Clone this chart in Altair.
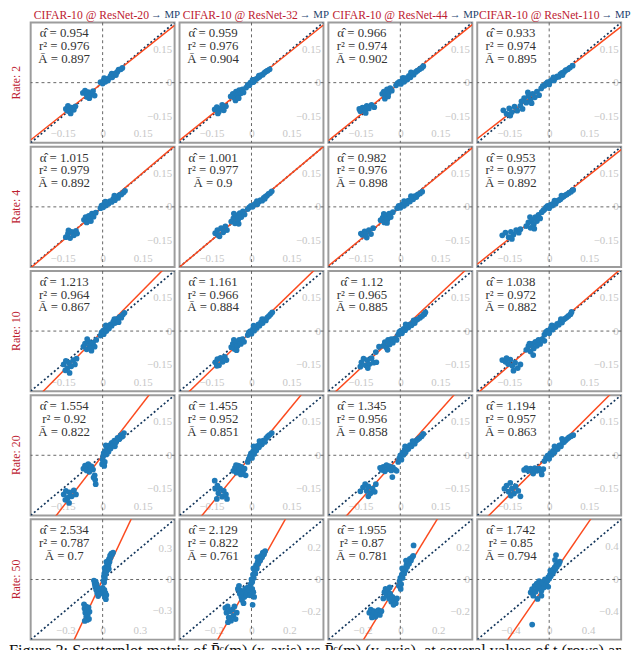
import altair as alt
import pandas as pd

SERIF = "Liberation Serif"
NETS = ["ResNet-20", "ResNet-32", "ResNet-44", "ResNet-110"]
RATES = [2, 4, 10, 20, 50]

ALPHA = [[0.954, 0.959, 0.966, 0.933],
         [1.015, 1.001, 0.982, 0.953],
         [1.213, 1.161, 1.12, 1.038],
         [1.554, 1.455, 1.345, 1.194],
         [2.534, 2.129, 1.955, 1.742]]
RSQ = [[0.976, 0.976, 0.974, 0.974],
       [0.979, 0.977, 0.976, 0.977],
       [0.964, 0.966, 0.965, 0.972],
       [0.92, 0.952, 0.956, 0.957],
       [0.787, 0.822, 0.87, 0.85]]
ABAR = [[0.897, 0.904, 0.902, 0.895],
        [0.892, 0.9, 0.898, 0.892],
        [0.867, 0.884, 0.885, 0.882],
        [0.822, 0.851, 0.858, 0.863],
        [0.7, 0.761, 0.781, 0.794]]
TICK = [[0.15, 0.15, 0.15, 0.15],
        [0.15, 0.15, 0.15, 0.15],
        [0.15, 0.15, 0.15, 0.15],
        [0.15, 0.15, 0.15, 0.15],
        [0.3, 0.2, 0.2, 0.4]]
DOMAIN = [[0.27, 0.27, 0.27, 0.27],
          [0.27, 0.27, 0.27, 0.27],
          [0.27, 0.27, 0.27, 0.27],
          [0.27, 0.27, 0.27, 0.27],
          [0.58, 0.38, 0.38, 0.74]]
CAPTION = "Figure 3: Scatterplot matrix of P̄ᶜ(m) (x-axis) vs P̄ᶜ(m) (y-axis), at several values of t (rows) and"

# ---- scatter points (x, y) per panel: rate row, network column ----
P_1_1 = [(-0.008,0.002),(0.0,-0.004),(0.004,0.010),(0.010,0.004),(0.015,0.016),(0.020,0.010),(0.026,0.022),(0.030,0.030),(0.036,0.024),(0.042,0.036),(0.048,0.042),(0.055,0.048),(0.060,0.058),(0.068,0.060),(0.074,0.066),(0.006,0.020),(0.034,0.040),(0.050,0.034),
         (-0.074,-0.046),(-0.066,-0.036),(-0.060,-0.052),(-0.054,-0.042),(-0.048,-0.060),(-0.042,-0.050),(-0.036,-0.038),(-0.030,-0.058),(-0.050,-0.070),(-0.058,-0.064),
         (-0.138,-0.118),(-0.130,-0.104),(-0.124,-0.130),(-0.116,-0.112),(-0.108,-0.122),(-0.102,-0.106),(-0.120,-0.138),(-0.132,-0.126)]
P_1_2 = [(-0.020,-0.022),(-0.014,-0.010),(-0.008,-0.012),(-0.004,0.000),(0.002,0.004),(0.008,0.002),(0.012,0.014),(0.018,0.016),(0.024,0.022),(0.030,0.026),(0.036,0.034),(0.042,0.036),(0.048,0.044),(0.054,0.050),(0.060,0.054),(0.068,0.060),(0.004,0.012),(0.028,0.032),
         (-0.078,-0.062),(-0.070,-0.050),(-0.064,-0.068),(-0.058,-0.040),(-0.052,-0.056),(-0.046,-0.034),(-0.040,-0.048),(-0.034,-0.030),(-0.060,-0.080),(-0.048,-0.070),(-0.030,-0.044),
         (-0.138,-0.120),(-0.130,-0.110),(-0.122,-0.130),(-0.114,-0.116),(-0.104,-0.124),(-0.096,-0.106),(-0.126,-0.138),(-0.110,-0.100)]
P_1_3 = [(-0.016,-0.012),(-0.010,-0.002),(-0.004,0.004),(0.002,-0.006),(0.008,0.010),(0.014,0.004),(0.020,0.020),(0.026,0.014),(0.032,0.030),(0.038,0.024),(0.044,0.040),(0.050,0.036),(0.058,0.048),(0.064,0.054),(0.072,0.060),(0.080,0.066),(0.086,0.074),(0.010,0.022),(0.040,0.046),
         (-0.068,-0.050),(-0.062,-0.040),(-0.056,-0.060),(-0.050,-0.030),(-0.044,-0.046),(-0.038,-0.024),(-0.032,-0.036),(-0.058,-0.072),(-0.046,-0.062),
         (-0.150,-0.128),(-0.142,-0.112),(-0.134,-0.124),(-0.126,-0.104),(-0.118,-0.116),(-0.108,-0.100),(-0.098,-0.110),(-0.130,-0.136),(-0.154,-0.118)]
P_1_4 = [(-0.018,-0.014),(-0.012,-0.004),(-0.006,0.002),(0.000,-0.008),(0.006,0.008),(0.012,0.014),(0.018,0.010),(0.024,0.022),(0.030,0.028),(0.036,0.026),(0.042,0.038),(0.048,0.044),(0.056,0.048),(0.062,0.056),(0.070,0.060),(0.078,0.068),(0.088,0.076),(0.016,0.024),(0.050,0.034),
         (-0.104,-0.084),(-0.094,-0.070),(-0.086,-0.090),(-0.078,-0.060),(-0.070,-0.078),(-0.062,-0.050),(-0.054,-0.066),(-0.046,-0.040),(-0.038,-0.056),(-0.030,-0.026),(-0.024,-0.014),(-0.080,-0.044),(-0.066,-0.092),
         (-0.172,-0.124),(-0.160,-0.140),(-0.150,-0.116),(-0.140,-0.132),(-0.130,-0.108),(-0.120,-0.126),(-0.108,-0.104),(-0.100,-0.118),(-0.146,-0.148)]

P_2_1 = [(-0.008,-0.006),(-0.004,0.006),(0.002,-0.002),(0.006,0.012),(0.012,0.006),(0.016,0.020),(0.022,0.014),(0.028,0.026),(0.034,0.022),(0.040,0.036),(0.046,0.030),(0.052,0.046),(0.058,0.040),(0.064,0.054),(0.070,0.056),(0.078,0.064),(0.084,0.072),(0.010,0.024),(0.044,0.050),
         (-0.070,-0.058),(-0.064,-0.046),(-0.058,-0.066),(-0.052,-0.040),(-0.046,-0.054),(-0.040,-0.030),(-0.034,-0.044),(-0.026,-0.026),(-0.060,-0.070),(-0.044,-0.064),
         (-0.138,-0.136),(-0.130,-0.120),(-0.122,-0.140),(-0.116,-0.112),(-0.108,-0.128),(-0.100,-0.108),(-0.096,-0.120),(-0.128,-0.106)]
P_2_2 = [(-0.014,-0.010),(-0.008,-0.002),(-0.002,0.004),(0.004,0.000),(0.010,0.010),(0.016,0.016),(0.022,0.012),(0.028,0.024),(0.034,0.030),(0.040,0.028),(0.046,0.040),(0.052,0.046),(0.058,0.050),(0.064,0.058),(0.070,0.062),(0.076,0.070),(0.020,0.026),(0.050,0.036),
         (-0.076,-0.066),(-0.068,-0.052),(-0.062,-0.074),(-0.056,-0.038),(-0.050,-0.058),(-0.044,-0.028),(-0.038,-0.046),(-0.032,-0.020),(-0.026,-0.034),(-0.066,-0.030),(-0.048,-0.076),
         (-0.136,-0.118),(-0.128,-0.104),(-0.120,-0.132),(-0.114,-0.096),(-0.106,-0.114),(-0.098,-0.088),(-0.092,-0.104),(-0.126,-0.126)]
P_2_3 = [(-0.012,-0.006),(-0.006,0.004),(0.000,-0.004),(0.006,0.010),(0.012,0.004),(0.018,0.018),(0.024,0.014),(0.030,0.028),(0.036,0.024),(0.042,0.038),(0.048,0.034),(0.054,0.048),(0.060,0.044),(0.066,0.056),(0.074,0.060),(0.082,0.068),(0.014,0.026),(0.040,0.048),
         (-0.074,-0.060),(-0.066,-0.048),(-0.060,-0.070),(-0.054,-0.038),(-0.048,-0.056),(-0.042,-0.030),(-0.036,-0.046),(-0.028,-0.024),(-0.062,-0.032),(-0.050,-0.072),
         (-0.142,-0.126),(-0.134,-0.110),(-0.126,-0.138),(-0.118,-0.104),(-0.110,-0.122),(-0.102,-0.096),(-0.130,-0.124),(-0.148,-0.120)]
P_2_4 = [(-0.018,-0.012),(-0.012,-0.002),(-0.006,0.004),(0.000,-0.006),(0.006,0.010),(0.012,0.006),(0.018,0.018),(0.024,0.014),(0.030,0.026),(0.036,0.030),(0.042,0.034),(0.048,0.042),(0.054,0.046),(0.060,0.052),(0.066,0.056),(0.074,0.062),(0.082,0.068),(0.090,0.076),(0.020,0.028),(0.046,0.050),
         (-0.086,-0.086),(-0.078,-0.070),(-0.070,-0.094),(-0.064,-0.058),(-0.058,-0.078),(-0.052,-0.046),(-0.046,-0.064),(-0.040,-0.036),(-0.034,-0.052),(-0.028,-0.024),(-0.022,-0.016),(-0.072,-0.046),(-0.056,-0.098),
         (-0.176,-0.128),(-0.164,-0.116),(-0.152,-0.136),(-0.144,-0.112),(-0.134,-0.124),(-0.124,-0.104),(-0.114,-0.116),(-0.108,-0.100),(-0.140,-0.144)]

P_3_1 = [(-0.008,-0.020),(-0.004,-0.006),(0.002,0.002),(0.004,-0.014),(0.010,0.010),(0.014,0.000),(0.020,0.020),(0.024,0.012),(0.030,0.030),(0.034,0.024),(0.040,0.042),(0.046,0.036),(0.052,0.054),(0.058,0.048),(0.064,0.064),(0.070,0.060),(0.076,0.074),(0.082,0.082),(0.012,0.026),(0.044,0.054),(0.060,0.040),
         (-0.072,-0.070),(-0.066,-0.056),(-0.060,-0.082),(-0.054,-0.046),(-0.048,-0.066),(-0.042,-0.088),(-0.036,-0.052),(-0.030,-0.070),(-0.024,-0.040),(-0.058,-0.036),(-0.046,-0.078),
         (-0.146,-0.150),(-0.138,-0.134),(-0.132,-0.166),(-0.126,-0.142),(-0.118,-0.158),(-0.110,-0.130),(-0.104,-0.150),(-0.098,-0.124),(-0.124,-0.188),(-0.140,-0.176)]
P_3_2 = [(-0.014,-0.018),(-0.010,-0.006),(-0.004,0.000),(0.000,-0.012),(0.006,0.010),(0.010,0.002),(0.016,0.020),(0.020,0.014),(0.026,0.030),(0.030,0.024),(0.036,0.040),(0.042,0.036),(0.048,0.052),(0.054,0.048),(0.060,0.062),(0.066,0.068),(0.072,0.076),(0.078,0.084),(0.008,0.024),(0.040,0.054),
         (-0.076,-0.072),(-0.070,-0.058),(-0.064,-0.080),(-0.058,-0.048),(-0.052,-0.066),(-0.046,-0.040),(-0.040,-0.058),(-0.034,-0.036),(-0.028,-0.048),(-0.056,-0.086),(-0.066,-0.040),
         (-0.136,-0.140),(-0.128,-0.126),(-0.122,-0.154),(-0.116,-0.120),(-0.108,-0.138),(-0.100,-0.116),(-0.094,-0.130),(-0.130,-0.156)]
P_3_3 = [(-0.008,-0.016),(-0.004,-0.004),(0.002,0.002),(0.006,-0.010),(0.012,0.010),(0.018,0.004),(0.024,0.020),(0.030,0.016),(0.036,0.030),(0.042,0.026),(0.048,0.040),(0.054,0.036),(0.060,0.050),(0.066,0.054),(0.074,0.060),(0.082,0.068),(0.090,0.076),(0.094,0.084),(0.020,0.030),(0.050,0.048),
         (-0.064,-0.066),(-0.058,-0.050),(-0.052,-0.074),(-0.046,-0.040),(-0.040,-0.060),(-0.034,-0.036),(-0.028,-0.052),(-0.020,-0.034),(-0.014,-0.040),(-0.048,-0.084),(-0.080,-0.070),(-0.092,-0.094),
         (-0.146,-0.140),(-0.138,-0.124),(-0.130,-0.154),(-0.124,-0.130),(-0.116,-0.148),(-0.108,-0.122),(-0.100,-0.142),(-0.090,-0.140),(-0.122,-0.166),(-0.150,-0.160)]
P_3_4 = [(-0.018,-0.016),(-0.012,-0.004),(-0.006,0.002),(0.000,-0.010),(0.006,0.012),(0.012,0.006),(0.018,0.022),(0.024,0.018),(0.030,0.032),(0.036,0.028),(0.042,0.042),(0.048,0.038),(0.054,0.052),(0.060,0.056),(0.066,0.062),(0.072,0.068),(0.080,0.076),(0.084,0.086),(0.010,0.026),(0.044,0.054),
         (-0.086,-0.084),(-0.078,-0.068),(-0.070,-0.092),(-0.064,-0.058),(-0.058,-0.078),(-0.052,-0.048),(-0.046,-0.066),(-0.040,-0.040),(-0.034,-0.058),(-0.026,-0.036),(-0.018,-0.044),(-0.060,-0.108),(-0.074,-0.056),
         (-0.176,-0.130),(-0.164,-0.138),(-0.154,-0.148),(-0.146,-0.128),(-0.138,-0.156),(-0.128,-0.142),(-0.118,-0.166),(-0.108,-0.150),(-0.134,-0.178),(-0.160,-0.122)]

P_4_1 = [(-0.002,-0.040),(0.000,-0.020),(0.002,-0.004),(0.004,0.010),(0.008,-0.030),(0.010,0.020),(0.014,0.004),(0.018,0.030),(0.022,0.016),(0.026,0.044),(0.030,0.030),(0.034,0.056),(0.040,0.044),(0.044,0.066),(0.050,0.058),(0.056,0.078),(0.062,0.072),(0.068,0.090),(0.074,0.084),(0.080,0.100),(0.012,0.044),(0.006,-0.048),(0.046,0.040),
         (-0.072,-0.060),(-0.066,-0.046),(-0.060,-0.068),(-0.054,-0.040),(-0.048,-0.058),(-0.042,-0.050),(-0.036,-0.064),(-0.030,-0.090),(-0.028,-0.110),(-0.026,-0.130),(-0.034,-0.100),(-0.050,-0.074),
         (-0.146,-0.176),(-0.138,-0.160),(-0.130,-0.190),(-0.124,-0.166),(-0.116,-0.184),(-0.108,-0.158),(-0.100,-0.176),(-0.126,-0.214),(-0.140,-0.200)]
P_4_2 = [(-0.014,-0.030),(-0.010,-0.016),(-0.006,-0.004),(-0.002,0.008),(0.002,-0.012),(0.006,0.018),(0.010,0.006),(0.014,0.030),(0.018,0.022),(0.022,0.042),(0.028,0.036),(0.032,0.054),(0.038,0.048),(0.044,0.066),(0.050,0.060),(0.056,0.078),(0.062,0.086),(0.068,0.092),(0.076,0.100),(0.008,0.040),(0.030,0.064),
         (-0.068,-0.070),(-0.062,-0.056),(-0.056,-0.078),(-0.050,-0.046),(-0.044,-0.064),(-0.038,-0.052),(-0.032,-0.074),(-0.026,-0.060),(-0.022,-0.090),(-0.058,-0.044),(-0.040,-0.086),
         (-0.136,-0.150),(-0.128,-0.136),(-0.124,-0.170),(-0.118,-0.150),(-0.110,-0.186),(-0.104,-0.160),(-0.096,-0.176),(-0.130,-0.196),(-0.138,-0.114),(-0.092,-0.196)]
P_4_3 = [(-0.008,-0.030),(-0.004,-0.014),(0.000,0.000),(0.004,-0.020),(0.008,0.012),(0.012,0.002),(0.016,0.024),(0.020,0.014),(0.026,0.034),(0.030,0.028),(0.036,0.046),(0.042,0.040),(0.048,0.056),(0.054,0.052),(0.060,0.066),(0.066,0.072),(0.072,0.078),(0.080,0.086),(0.086,0.096),(0.018,0.040),(0.046,0.064),
         (-0.070,-0.066),(-0.064,-0.052),(-0.058,-0.072),(-0.052,-0.044),(-0.046,-0.062),(-0.040,-0.050),(-0.034,-0.068),(-0.028,-0.054),(-0.020,-0.064),(-0.014,-0.070),(-0.030,-0.098),(-0.076,-0.056),
         (-0.140,-0.144),(-0.132,-0.130),(-0.126,-0.160),(-0.120,-0.140),(-0.112,-0.170),(-0.104,-0.150),(-0.096,-0.164),(-0.120,-0.184),(-0.150,-0.162),(-0.092,-0.130)]
P_4_4 = [(-0.018,-0.026),(-0.012,-0.012),(-0.006,-0.002),(0.000,-0.016),(0.004,0.008),(0.010,0.002),(0.014,0.020),(0.020,0.014),(0.026,0.032),(0.032,0.028),(0.038,0.044),(0.044,0.040),(0.050,0.056),(0.056,0.060),(0.062,0.068),(0.068,0.074),(0.074,0.080),(0.082,0.086),(0.090,0.090),(0.020,0.040),(0.048,0.074),
         (-0.094,-0.066),(-0.086,-0.058),(-0.078,-0.070),(-0.070,-0.060),(-0.062,-0.074),(-0.054,-0.058),(-0.046,-0.070),(-0.038,-0.060),(-0.030,-0.072),(-0.022,-0.062),(-0.028,-0.086),(-0.060,-0.082),
         (-0.168,-0.150),(-0.160,-0.136),(-0.152,-0.164),(-0.146,-0.124),(-0.140,-0.150),(-0.132,-0.172),(-0.126,-0.140),(-0.116,-0.160),(-0.108,-0.184),(-0.144,-0.182)]

P_5_1 = [(0.008,-0.010),(0.010,0.030),(0.014,0.060),(0.018,0.010),(0.020,0.090),(0.024,0.050),(0.028,0.120),(0.032,0.080),(0.036,0.150),(0.040,0.110),(0.044,0.180),(0.048,0.140),(0.052,0.200),(0.056,0.170),(0.060,0.230),(0.064,0.210),(0.070,0.250),(0.076,0.240),(0.084,0.260),(0.016,0.110),(0.030,0.170),(0.012,-0.030),(0.050,0.100),
         (-0.070,-0.010),(-0.064,-0.040),(-0.060,-0.070),(-0.056,-0.020),(-0.052,-0.100),(-0.048,-0.050),(-0.044,-0.130),(-0.040,-0.080),(-0.036,-0.160),(-0.030,-0.110),(-0.026,-0.140),
         (0.000,-0.080),(0.006,-0.110),(0.010,-0.140),(0.014,-0.100),(0.018,-0.170),(0.022,-0.130),(0.026,-0.190),(0.030,-0.150),
         (-0.150,-0.240),(-0.146,-0.280),(-0.140,-0.320),(-0.136,-0.260),(-0.132,-0.360),(-0.128,-0.300),(-0.124,-0.390),(-0.120,-0.340),(-0.114,-0.270),(-0.110,-0.380),(-0.106,-0.310),(-0.144,-0.400)]
P_5_2 = [(-0.004,-0.030),(0.000,0.000),(0.004,-0.016),(0.008,0.030),(0.012,0.010),(0.016,0.060),(0.020,0.040),(0.024,0.090),(0.028,0.070),(0.032,0.110),(0.036,0.100),(0.040,0.130),(0.046,0.120),(0.050,0.150),(0.056,0.140),(0.060,0.170),(0.066,0.160),(0.072,0.180),(0.010,0.070),(0.030,0.140),
         (-0.072,-0.060),(-0.066,-0.040),(-0.062,-0.090),(-0.058,-0.070),(-0.054,-0.110),(-0.050,-0.130),(-0.046,-0.080),(-0.042,-0.150),(-0.038,-0.110),(-0.034,-0.060),(-0.028,-0.100),(-0.024,-0.080),(-0.020,-0.050),(-0.014,-0.070),(-0.008,-0.100),(0.004,-0.060),(0.010,-0.080),(0.014,-0.110),(0.006,-0.160),
         (-0.138,-0.180),(-0.132,-0.210),(-0.126,-0.170),(-0.120,-0.240),(-0.114,-0.200),(-0.108,-0.260),(-0.102,-0.190),(-0.096,-0.230),(-0.090,-0.170),(-0.084,-0.250),(-0.078,-0.210),(-0.124,-0.270)]
P_5_3 = [(-0.008,-0.040),(-0.004,-0.010),(0.000,0.010),(0.004,-0.030),(0.008,0.030),(0.012,0.010),(0.016,0.050),(0.020,0.040),(0.024,0.070),(0.028,0.060),(0.032,0.090),(0.036,0.080),(0.040,0.110),(0.046,0.100),(0.050,0.130),(0.056,0.120),(0.062,0.140),(0.068,0.150),(0.070,0.215),(0.010,0.070),(0.030,0.120),(0.002,-0.060),
         (-0.084,-0.080),(-0.078,-0.060),(-0.072,-0.100),(-0.066,-0.070),(-0.060,-0.120),(-0.054,-0.090),(-0.048,-0.140),(-0.042,-0.110),(-0.036,-0.160),(-0.030,-0.130),(-0.024,-0.150),(-0.018,-0.120),(-0.056,-0.050),(-0.090,-0.120),
         (-0.164,-0.210),(-0.156,-0.190),(-0.148,-0.226),(-0.140,-0.200),(-0.132,-0.236),(-0.124,-0.210),(-0.116,-0.194),(-0.108,-0.224),(-0.100,-0.200),(-0.150,-0.240)]
P_5_4 = [(-0.024,-0.020),(-0.016,0.000),(-0.008,0.030),(0.000,0.010),(0.008,0.060),(0.016,0.040),(0.024,0.090),(0.032,0.070),(0.040,0.120),(0.048,0.100),(0.056,0.150),(0.064,0.130),(0.072,0.180),(0.080,0.160),(0.090,0.200),(0.100,0.190),(0.110,0.220),(0.070,0.300),(0.060,0.240),(0.012,0.110),
         (-0.190,-0.160),(-0.176,-0.120),(-0.164,-0.200),(-0.150,-0.080),(-0.140,-0.150),(-0.128,-0.050),(-0.116,-0.110),(-0.104,-0.020),(-0.092,-0.080),(-0.080,-0.140),(-0.068,-0.040),(-0.056,-0.100),(-0.044,0.000),(-0.032,-0.060),(-0.020,-0.020),(-0.010,-0.090),(-0.120,-0.240),(-0.080,-0.200),(-0.175,-0.555)]

POINTS = [[P_1_1, P_1_2, P_1_3, P_1_4],
          [P_2_1, P_2_2, P_2_3, P_2_4],
          [P_3_1, P_3_2, P_3_3, P_3_4],
          [P_4_1, P_4_2, P_4_3, P_4_4],
          [P_5_1, P_5_2, P_5_3, P_5_4]]

# ---- style / layout ----
W, H = 146, 122
HSP, VSP = 5, 0
LABW, CAPH = 17, 16
TITLE_SPLIT = [120, 120, 121, 124]
BLUE = "#1f7ab8"
RED = "#fb4a1e"
NAVY = "#12355b"
ZERO = "#555555"
BORDER = "#9c9c9c"
LIGHT = "#c6c6c6"
TXT = "#333333"
TITLE_RED = "#bd2130"
TITLE_BLUE = "#1d3f6e"


def panel(r, c):
    d = DOMAIN[r][c]
    t = TICK[r][c]
    a = ALPHA[r][c]
    sx = alt.Scale(domain=[-d, d], nice=False, zero=False)
    sy = alt.Scale(domain=[-d, d], nice=False, zero=False)
    xaxis = alt.Axis(values=[-t, 0, t], format=".2~f", orient="bottom", domain=False,
                     ticks=False, tickSize=0, grid=False, labelPadding=-9,
                     labelBaseline="middle", labelColor=LIGHT, labelFont=SERIF,
                     labelFontSize=11, labelFlush=False, labelOverlap=False, title=None)
    yaxis = alt.Axis(values=[-t, 0, t], format=".2~f", orient="right", domain=False,
                     ticks=False, tickSize=0, grid=False, labelPadding=-3,
                     labelAlign="right", labelBaseline="middle", labelColor=LIGHT,
                     labelFont=SERIF, labelFontSize=11, labelFlush=False,
                     labelOverlap=False, title=None)

    def X(f):
        return alt.X(f, type="quantitative", scale=sx, axis=xaxis)

    def Y(f):
        return alt.Y(f, type="quantitative", scale=sy, axis=yaxis)

    zdf = pd.DataFrame({"v": [0.0]})
    zx = alt.Chart(zdf).mark_rule(color=ZERO, strokeDash=[3, 3], strokeWidth=0.9).encode(x=X("v"))
    zy = alt.Chart(zdf).mark_rule(color=ZERO, strokeDash=[3, 3], strokeWidth=0.9).encode(y=Y("v"))
    ddf = pd.DataFrame({"x": [-d, d], "y": [-d, d]})
    diag = alt.Chart(ddf).mark_line(color=NAVY, strokeDash=[2, 2.4], strokeWidth=1.7,
                                    clip=True).encode(x=X("x"), y=Y("y"))
    fdf = pd.DataFrame({"x": [-d, d], "y": [-a * d, a * d]})
    fit = alt.Chart(fdf).mark_line(color=RED, strokeWidth=1.5, clip=True).encode(x=X("x"), y=Y("y"))
    pdf = pd.DataFrame(POINTS[r][c], columns=["x", "y"])
    pts = alt.Chart(pdf).mark_circle(color=BLUE, size=34, opacity=1).encode(x=X("x"), y=Y("y"))
    label = "α̂ = {}\nr² = {}\nĀ = {}".format(ALPHA[r][c], RSQ[r][c], ABAR[r][c])
    tdf = pd.DataFrame({"t": [label]})
    txt = alt.Chart(tdf).mark_text(font=SERIF, fontSize=13, color=TXT, align="center",
                                   baseline="top", lineBreak="\n", lineHeight=13).encode(
        text="t:N", x=alt.value(34), y=alt.value(5))
    layers = [zx, zy, diag, fit, pts, txt]
    if r == 0:
        split = TITLE_SPLIT[c]
        red_t = alt.Chart(pd.DataFrame({"t": ["CIFAR-10 @ " + NETS[c]]})).mark_text(
            font=SERIF, fontSize=11.8, color=TITLE_RED, align="right", baseline="middle").encode(
            text="t:N", x=alt.value(split), y=alt.value(-8))
        blue_t = alt.Chart(pd.DataFrame({"t": ["→ MP"]})).mark_text(
            font=SERIF, fontSize=11, color=TITLE_BLUE, align="left", baseline="middle").encode(
            text="t:N", x=alt.value(split + 2), y=alt.value(-8))
        layers += [red_t, blue_t]
    return alt.layer(*layers).properties(
        width=W, height=H, view=alt.ViewBackground(stroke=BORDER, strokeWidth=2))


def row_label(r):
    return alt.Chart(pd.DataFrame({"t": ["Rate: {}".format(RATES[r])]})).mark_text(
        font=SERIF, fontSize=12, color=TITLE_RED, angle=270, align="center",
        baseline="middle").encode(text="t:N", x=alt.value(7), y=alt.value(H / 2)).properties(
        width=LABW, height=H)


rows = [alt.hconcat(row_label(r), *[panel(r, c) for c in range(4)], spacing=HSP, bounds="flush")
        for r in range(5)]
cap_w = LABW + HSP + 4 * W + 3 * HSP
caption = alt.Chart(pd.DataFrame({"t": [CAPTION]})).mark_text(
    font=SERIF, fontSize=16.5, color="#111111", align="left", baseline="top", clip=True).encode(
    text="t:N", x=alt.value(0), y=alt.value(1)).properties(width=cap_w, height=CAPH)

chart = alt.vconcat(*rows, caption, spacing=VSP).properties(
    padding={"left": 0, "top": -5, "right": 0, "bottom": 0}, background="white"
).configure_view(stroke="transparent")

chart.save("out.html", embed_options={"renderer": "svg", "actions": False})
